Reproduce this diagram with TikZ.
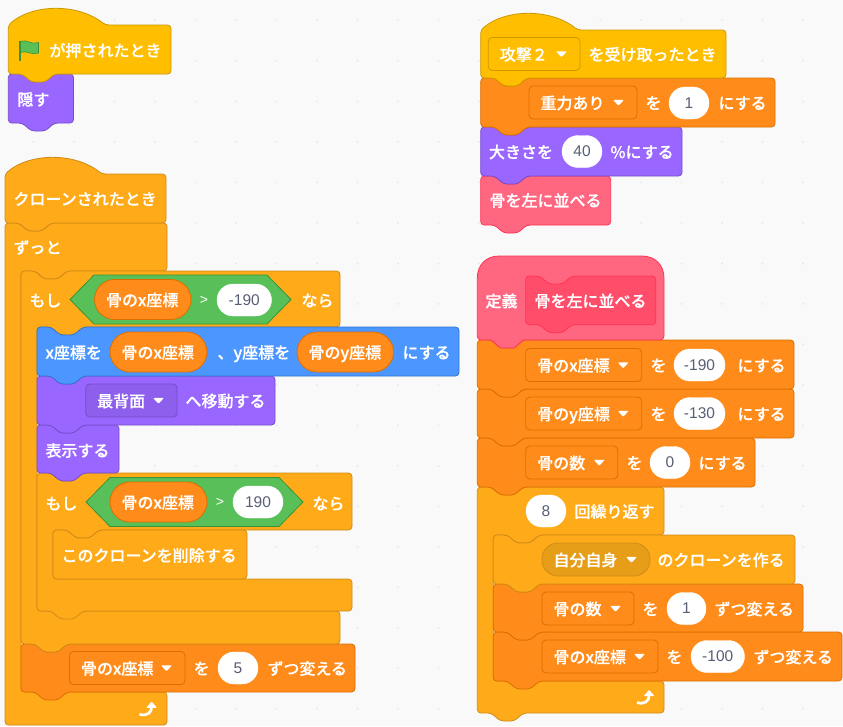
\documentclass[tikz,border=0pt]{standalone}
\usepackage{fontspec}
\newfontfamily\jp[FakeBold=0.35]{Noto Sans CJK JP Medium}
\newfontfamily\lat{Liberation Sans}
\definecolor{bg}{HTML}{F9F9F9}
\definecolor{dotc}{HTML}{E5E7E9}
\definecolor{ctl}{HTML}{FFAB19}\definecolor{ctlS}{HTML}{CF8B17}\definecolor{ctlD}{HTML}{E69D17}
\definecolor{evt}{HTML}{FFBF00}\definecolor{evtS}{HTML}{CC9900}
\definecolor{dat}{HTML}{FF8C1A}\definecolor{datS}{HTML}{DB6E00}
\definecolor{lok}{HTML}{9966FF}\definecolor{lokS}{HTML}{774DCB}\definecolor{lokD}{HTML}{8E5EEC}
\definecolor{mot}{HTML}{4C97FF}\definecolor{motS}{HTML}{3373CC}
\definecolor{grn}{HTML}{59C059}\definecolor{grnS}{HTML}{389438}
\definecolor{cus}{HTML}{FF6680}\definecolor{cusS}{HTML}{FF3355}\definecolor{cusD}{HTML}{FF4D6A}
\definecolor{pilltxt}{HTML}{575E75}
\tikzset{
  ctlb/.style={fill=ctl,draw=ctlS,line width=.8pt,rounded corners=3.5pt},
  evtb/.style={fill=evt,draw=evtS,line width=.8pt,rounded corners=3.5pt},
  datb/.style={fill=dat,draw=datS,line width=.8pt,rounded corners=3.5pt},
  lokb/.style={fill=lok,draw=lokS,line width=.8pt,rounded corners=3.5pt},
  motb/.style={fill=mot,draw=motS,line width=.8pt,rounded corners=3.5pt},
  cusb/.style={fill=cus,draw=cusS,line width=.8pt},
  cusi/.style={fill=cusD,draw=cusS,line width=.8pt,rounded corners=3.5pt},
  ddorange/.style={fill=dat,draw=datS,line width=.8pt,rounded corners=4pt},
  ddyellow/.style={fill=evt,draw=evtS,line width=.8pt,rounded corners=4pt},
  ddpurple/.style={fill=lokD,draw=lokS,line width=.8pt,rounded corners=4pt},
  ddclone/.style={fill=ctlD,draw=ctlS,line width=.8pt,rounded corners=16pt},
  lbl/.style={anchor=west,inner sep=0pt,text=white,text height=15pt,text depth=1.9pt,
    font=\jp\fontsize{16}{18}\selectfont},
  pilltext/.style={inner sep=0pt,text=pilltxt,font=\lat\fontsize{15.5}{18}\selectfont},
  gtlabel/.style={inner sep=0pt,text=white,font=\lat\fontsize{14}{16}\selectfont},
  reporter/.style={fill=dat,draw=datS,line width=.8pt,rounded corners=20pt},
  hexb/.style={fill=grn,draw=grnS,line width=.8pt},
}
\newcount\nn
\newcommand\nid{\global\advance\nn by 1 }
% stack block: style,x,top,right,bottom,tabdepth
\newcommand\blk[6]{\draw[#1] (#2,#3+12) -- (#2,#3) -- ++(14,0) -- ++(9,8) -- ++(14,0) -- ++(9,-8) -- (#4,#3) -- (#4,#5) -- (#2+46,#5) -- ++(-9,#6) -- ++(-14,0) -- ++(-9,-#6) -- (#2,#5) -- cycle;}
% hat: style,x,top,right,bottom
\newcommand\hatb[5]{\draw[#1] (#2,#3+12) -- (#2,#3) .. controls (#2+25,#3-21.5) and (#2+70,#3-21.5) .. (#2+97,#3) -- (#4,#3) -- (#4,#5) -- (#2+46,#5) -- ++(-9,8) -- ++(-14,0) -- ++(-9,-8) -- (#2,#5) -- cycle;}
% C block: x,top,right,headbottom,armx,innerbottom,bottom,tabdepth
\newcommand\cblk[8]{\draw[ctlb] (#1,#2+12) -- (#1,#2) -- ++(14,0) -- ++(9,8) -- ++(14,0) -- ++(9,-8) -- (#3,#2) -- (#3,#4) -- (#5+46,#4) -- ++(-9,8) -- ++(-14,0) -- ++(-9,-8) -- (#5,#4) -- (#5,#6) -- (#3,#6) -- (#3,#7) -- (#1+46,#7) -- ++(-9,#8) -- ++(-14,0) -- ++(-9,-#8) -- (#1,#7) -- cycle;}
\newcommand\tx[3]{\nid\node[lbl] (t\the\nn) at (#1-.7,#2) {#3};}
\newcommand\pill[4]{\draw[fill=white,draw=white,rounded corners=16pt] (#1,#3-16) rectangle (#2,#3+16);\nid\node[pilltext] (p\the\nn) at ({(#1+#2)/2},#3) {#4};}
% dropdown: style,left,right,cy,text
\newcommand\dd[5]{\draw[#1] (#2,#4-16.5) rectangle (#3,#4+16.5);\tx{#2+12}{#4}{#5}\fill[white,rounded corners=1pt] (#3-24,#4-2.7) -- (#3-13,#4-2.7) -- (#3-18.5,#4+3.3) -- cycle;}
% reporter oval
\newcommand\rep[4]{\draw[reporter] (#1,#3-20) rectangle (#2,#3+20);\tx{#1+12}{#3}{#4}}
\newcommand\hex[3]{\draw[hexb] (#1,#3) -- (#1+24,#3-24.5) -- (#2-24,#3-24.5) -- (#2,#3) -- (#2-24,#3+24.5) -- (#1+24,#3+24.5) -- cycle;}
\newcommand\looparrow[2]{\begin{scope}[shift={(#1,#2)}]
  \draw[white,line width=2.7pt] (-8.5,5.3) .. controls (-1,7.5) and (4,3.5) .. (3.5,-2);
  \fill[white,rounded corners=.8pt] (-1.8,-1.2) -- (3.6,-7.5) -- (9,-1.2) -- cycle;
\end{scope}}
\begin{document}
\begin{tikzpicture}[x=1pt,y=-1pt]
\useasboundingbox (0,0) rectangle (843,726);
\fill[bg] (0,0) rectangle (843,726);
\foreach \i in {0,...,19}{\foreach \j in {0,...,17}{\fill[dotc] ({33.5+40.5*\i},{20.3+40.5*\j}) circle (1);}}
% ---------- left column
\blk{lokb}{8.3}{74}{73.5}{123}{8}
\tx{18}{99}{隠す}
\hatb{evtb}{8.3}{25}{171}{74}
\draw[fill=grn,draw=grnS,line width=.6pt] (20.5,41.5) .. controls (26,38.5) and (32,45.5) .. (38.5,42.5) -- (38.5,53) .. controls (32,56) and (26,49.5) .. (20.5,52.5) -- cycle;
\draw[grnS,line width=2pt] (20.2,40.5) -- (20.2,60.5);
\tx{50}{50}{が押されたとき}
% forever
\cblk{5}{223}{167}{271}{21}{692}{725}{0}
\tx{14}{247}{ずっと}
\looparrow{148}{709}
% change x
\blk{datb}{21}{644}{355}{692}{8}
\dd{ddorange}{69.5}{185}{668}{骨のx座標}
\tx{194}{668}{を}
\pill{218}{258}{668}{5}
\tx{268}{668}{ずつ変える}
% if 1
\cblk{21}{271}{340}{327}{37}{611}{644}{8}
\tx{30}{300}{もし}
\hex{70}{291}{299.5}
\rep{94.5}{191}{299.5}{骨のx座標}
\nid\node[gtlabel] (g\the\nn) at (204,300) {>};
\pill{217}{271.5}{300}{-190}
\tx{302}{300}{なら}
% if 2
\cblk{37}{473}{352}{530}{53}{579}{611}{8}
\tx{46}{503}{もし}
\hex{86}{303}{502}
\rep{110}{207}{502}{骨のx座標}
\nid\node[gtlabel] (g\the\nn) at (220,502) {>};
\pill{233}{283}{502}{190}
\tx{313}{503}{なら}
% delete clone
\blk{ctlb}{53}{530}{247}{579}{0}
\tx{62}{555}{このクローンを削除する}
% show
\blk{lokb}{37}{425}{119}{473}{8}
\tx{46}{450}{表示する}
% go back
\blk{lokb}{37}{376}{275}{425}{8}
\dd{ddpurple}{85.7}{177}{400.5}{最背面}
\tx{186}{400.5}{へ移動する}
% go to xy
\blk{motb}{37}{327}{459}{376}{8}
\tx{46}{352}{x座標を}
\rep{110}{207}{352}{骨のx座標}
\tx{218}{352}{、y座標を}
\rep{297}{393.5}{352}{骨のy座標}
\tx{403}{352}{にする}
% hat clone
\hatb{ctlb}{5}{174}{166}{223}
\tx{14}{198.5}{クローンされたとき}
% ---------- right column
\blk{cusb,rounded corners=3.5pt}{480.7}{176}{610.7}{225}{8}
\tx{490}{200}{骨を左に並べる}
\blk{lokb}{480.7}{127}{682}{176}{8}
\tx{489.5}{151.5}{大きさを}
\pill{562}{602}{151.5}{40}
\tx{611}{151.5}{\%にする}
\blk{datb}{480.7}{78}{775}{127}{8}
\dd{ddorange}{529}{637}{102.5}{重力あり}
\tx{646}{102.5}{を}
\pill{669}{709}{103}{1}
\tx{719}{102.5}{にする}
\hatb{evtb}{480.7}{30}{726}{78}
\dd{ddyellow}{488.3}{580}{54}{攻撃２}
\tx{589}{54}{を受け取ったとき}
% repeat
\cblk{477.3}{487}{664}{535}{493.3}{681}{713}{8}
\pill{526}{566}{511}{8}
\tx{575}{511}{回繰り返す}
\looparrow{645.5}{697.3}
\blk{datb}{493.3}{632}{842}{681}{8}
\dd{ddorange}{542}{658}{656.5}{骨のx座標}
\tx{667}{656.5}{を}
\pill{691}{744.5}{656.5}{-100}
\tx{754}{656.5}{ずつ変える}
\blk{datb}{493.3}{584}{803}{632}{8}
\dd{ddorange}{542}{634}{608.5}{骨の数}
\tx{643}{608.5}{を}
\pill{667}{706}{608.5}{1}
\tx{715}{608.5}{ずつ変える}
\blk{ctlb}{493.3}{535}{795}{584}{8}
\dd{ddclone}{542}{650}{559.5}{自分自身}
\tx{658}{559.5}{のクローンを作る}
% set vars
\blk{datb}{477.3}{438}{755}{487}{8}
\dd{ddorange}{525.7}{617.7}{462.5}{骨の数}
\tx{627}{462.5}{を}
\pill{650}{690}{462.5}{0}
\tx{699}{462.5}{にする}
\blk{datb}{477.3}{389}{794}{438}{8}
\dd{ddorange}{525.7}{641.7}{413.5}{骨のy座標}
\tx{651}{413.5}{を}
\pill{674}{725}{413.5}{-130}
\tx{738}{413.5}{にする}
\blk{datb}{477.3}{340}{794}{389}{8}
\dd{ddorange}{525.7}{641.7}{365}{骨のx座標}
\tx{651}{365}{を}
\pill{674}{725}{365}{-190}
\tx{738}{365}{にする}
% define hat
\draw[cusb] (477.3,278) .. controls (477.3,265) and (486,256) .. (499,256) -- (642,256) .. controls (655,256) and (664,265) .. (664,278) -- (664,336) .. controls (664,338.5) and (662.5,340) .. (660,340) -- (523.3,340) -- ++(-9,8) -- ++(-14,0) -- ++(-9,-8) -- (481,340) .. controls (478.8,340) and (477.3,338.5) .. (477.3,336) -- cycle;
\tx{486}{300.5}{定義}
\blk{cusi}{525.7}{276}{655.7}{324.7}{8}
\tx{535}{300.5}{骨を左に並べる}
\end{tikzpicture}
\end{document}
